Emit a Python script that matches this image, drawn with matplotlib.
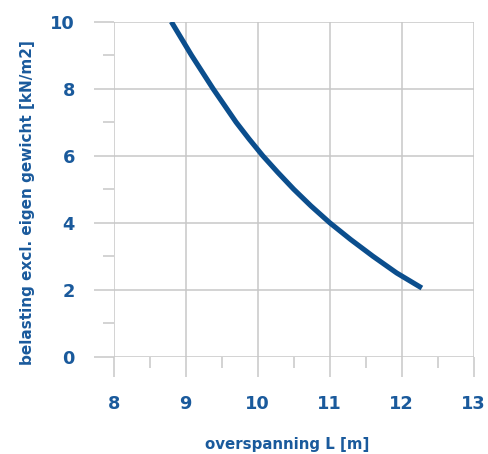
import matplotlib
matplotlib.use("Agg")
import matplotlib.pyplot as plt
from matplotlib.ticker import MultipleLocator

# values (span L in m, load in kN/m2)
span_L = [8.80, 8.94, 9.08, 9.23, 9.38, 9.54, 9.70, 9.88, 10.07,
          10.28, 10.50, 10.74, 11.00, 11.29, 11.60, 11.93, 12.28]
load_q = [10.0, 9.5, 9.0, 8.5, 8.0, 7.5, 7.0, 6.5, 6.0,
          5.5, 5.0, 4.5, 4.0, 3.5, 3.0, 2.5, 2.05]

text_blue = "#1a5a9c"
line_blue = "#0b4e8d"
grid_grey = "#c8c8c8"

plt.rcParams["font.family"] = ["DejaVu Sans"]
plt.rcParams["font.weight"] = "bold"

fig = plt.figure(figsize=(4.89, 4.54), dpi=100)
ax = fig.add_axes([0.2325, 0.2143, 0.7362, 0.7379])

ax.plot(span_L, load_q, color=line_blue, linewidth=3.7,
        solid_capstyle="butt", solid_joinstyle="round")

ax.set_xlim(8, 13)
ax.set_ylim(0, 10)
ax.xaxis.set_major_locator(MultipleLocator(1))
ax.xaxis.set_minor_locator(MultipleLocator(0.5))
ax.yaxis.set_major_locator(MultipleLocator(2))
ax.yaxis.set_minor_locator(MultipleLocator(1))

ax.grid(True, which="major", color=grid_grey, linewidth=1.1)
for s in ax.spines.values():
    s.set_visible(False)

ax.tick_params(which="major", length=14.4, width=1.1, color=grid_grey, pad=13.5,
               labelsize=12.8, labelcolor=text_blue)
ax.tick_params(which="minor", length=8.2, width=1.1, color=grid_grey)
for lab in ax.get_xticklabels() + ax.get_yticklabels():
    lab.set_fontweight("bold")

ax.set_xlabel("overspanning L [m]", fontsize=10.8, fontweight="bold", color=text_blue)
ax.set_ylabel("belasting excl. eigen gewicht [kN/m2]", fontsize=11, fontweight="bold", color=text_blue)
ax.xaxis.set_label_coords(0.481, -0.24)
ax.yaxis.set_label_coords(-0.218, 0.46)

fig.savefig("out.png", dpi=100)
